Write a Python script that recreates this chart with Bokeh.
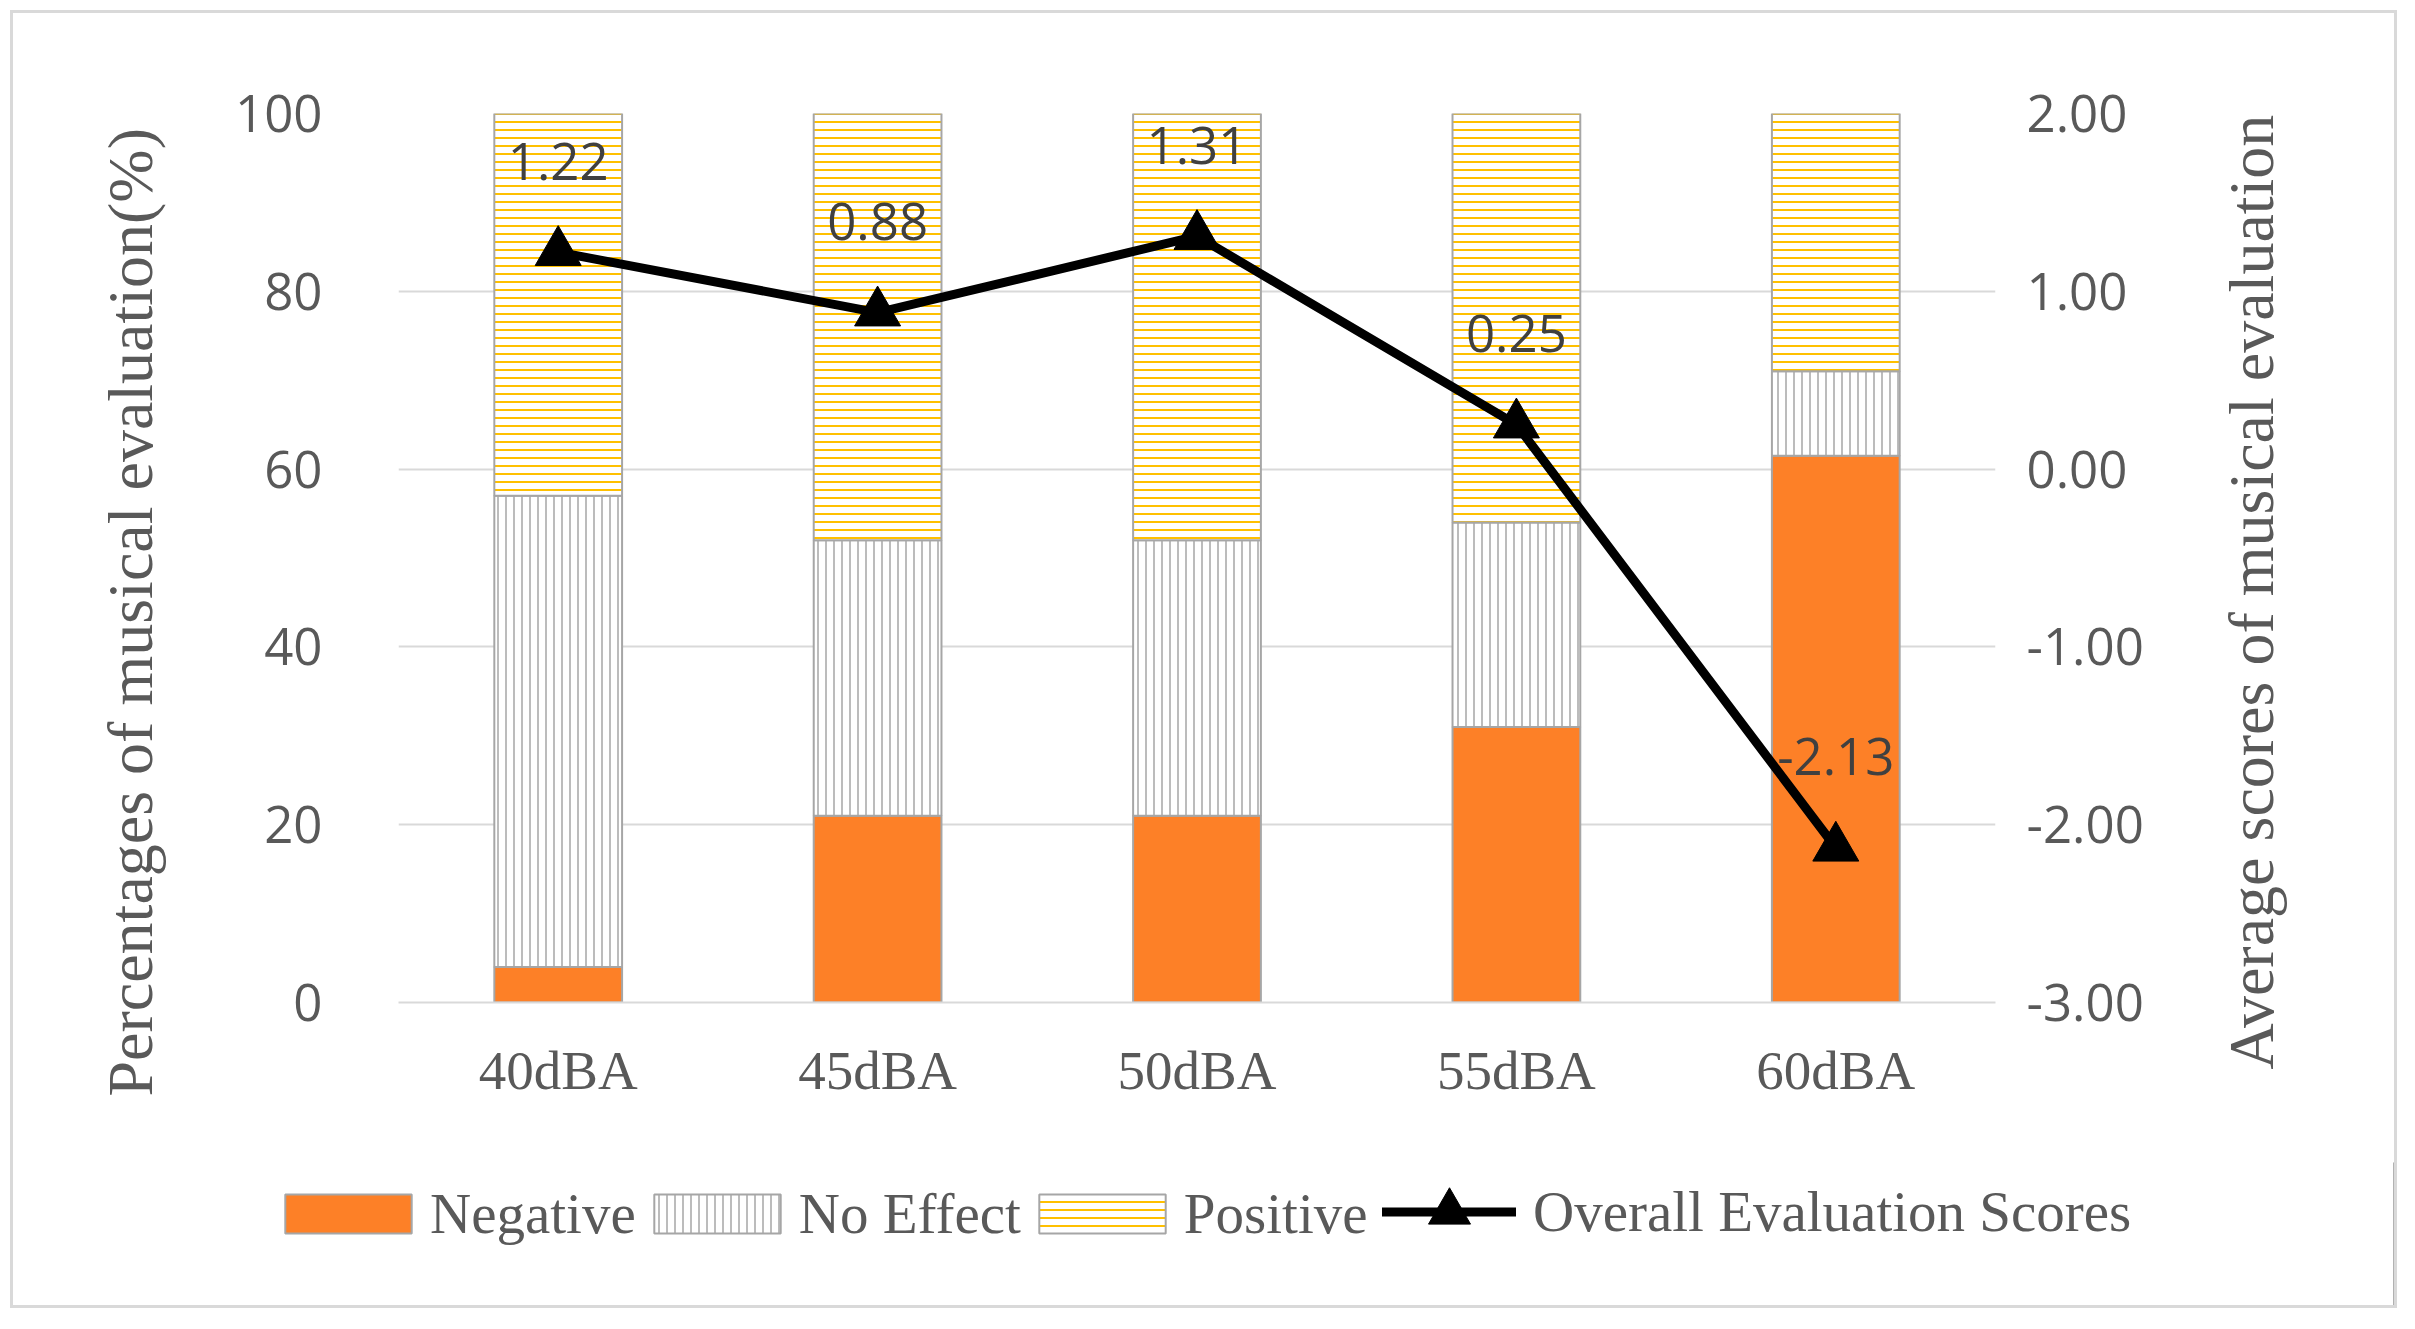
from bokeh.plotting import figure
from bokeh.layouts import column, row
from bokeh.models import (Range1d, LinearAxis, FixedTicker, NumeralTickFormatter,
                          Legend, LegendItem, ColumnDataSource, Title)
from bokeh.embed import file_html
from bokeh.resources import INLINE

#=======================================#
# Data                                  #
#=======================================#
levels = ['40dBA', '45dBA', '50dBA', '55dBA', '60dBA']
negative = [4, 21, 21, 31, 61.5]
no_effect = [53, 31, 31, 23, 9.5]
positive = [43, 48, 48, 46, 29]
scores = [1.22, 0.88, 1.31, 0.25, -2.13]

left_ticks = [0, 20, 40, 60, 80, 100]
right_ticks = [-3, -2, -1, 0, 1, 2]

left_title = 'Percentages of musical evaluation(%)'
right_title = 'Average scores of musical evaluation'

SERIF = 'Liberation Serif'
SANS = 'Open Sans'
GREY_TXT = '#595959'
ORANGE = '#fd8027'
EDGE = '#a6a6a6'
YELLOW = '#ffc000'

MAIN_H = 1149
TOP, BOTTOM = 100, 160

#=======================================#
# Main chart                            #
#=======================================#
p = figure(x_range=levels, y_range=Range1d(0, 100), width=2159, height=MAIN_H,
           output_backend="svg", toolbar_location=None,
           min_border_left=385, min_border_right=177,
           min_border_top=TOP, min_border_bottom=BOTTOM)
p.outline_line_color = None
p.extra_y_ranges = {'score': Range1d(-3, 2)}

top_ne = [a + b for a, b in zip(negative, no_effect)]
top_pos = [a + b + c for a, b, c in zip(negative, no_effect, positive)]

src = ColumnDataSource(dict(x=levels, neg=negative, ne_t=top_ne, pos_t=top_pos,
                            score=scores, lbl=['%.2f' % s for s in scores]))

bar_neg = dict(fill_color=ORANGE, line_color=EDGE, line_width=2)
bar_ne = dict(fill_color='white', line_color=EDGE, line_width=2,
              hatch_pattern='vertical_line', hatch_color=EDGE,
              hatch_scale=8, hatch_weight=1.5)
bar_pos = dict(fill_color='white', line_color=EDGE, line_width=2,
               hatch_pattern='horizontal_line', hatch_color=YELLOW,
               hatch_scale=8, hatch_weight=2)

p.vbar(x='x', bottom=0, top='neg', width=0.4, source=src, **bar_neg)
p.vbar(x='x', bottom='neg', top='ne_t', width=0.4, source=src, **bar_ne)
p.vbar(x='x', bottom='ne_t', top='pos_t', width=0.4, source=src, **bar_pos)

p.line(x='x', y='score', source=src, y_range_name='score',
       line_color='black', line_width=9, line_join='round')
p.scatter(x='x', y='score', source=src, y_range_name='score',
          marker='triangle', size=46, fill_color='black', line_color='black')

p.text(x='x', y='score', text='lbl', source=src, y_range_name='score',
       y_offset=-91, text_align='center', text_baseline='middle',
       text_font={'value': SANS}, text_font_size='51px', text_color='#404040')

# left axis
p.yaxis.ticker = FixedTicker(ticks=left_ticks)
p.yaxis.axis_line_color = None
p.yaxis.major_tick_line_color = None
p.yaxis.minor_tick_line_color = None
p.yaxis.major_label_standoff = 70
p.yaxis.major_label_text_font = SANS
p.yaxis.major_label_text_font_size = '51px'
p.yaxis.major_label_text_color = GREY_TXT

# right axis
ax_r = LinearAxis(y_range_name='score', ticker=FixedTicker(ticks=right_ticks),
                  formatter=NumeralTickFormatter(format='0.00'))
ax_r.axis_line_color = None
ax_r.major_tick_line_color = None
ax_r.minor_tick_line_color = None
ax_r.major_label_standoff = 25
ax_r.major_label_text_font = SANS
ax_r.major_label_text_font_size = '51px'
ax_r.major_label_text_color = GREY_TXT
p.add_layout(ax_r, 'right')

# bottom axis
p.xaxis.axis_line_color = '#d9d9d9'
p.xaxis.axis_line_width = 2
p.xaxis.major_tick_line_color = None
p.xaxis.minor_tick_line_color = None
p.xaxis.major_label_standoff = 31
p.xaxis.major_label_text_font = SERIF
p.xaxis.major_label_text_font_size = '55px'
p.xaxis.major_label_text_color = GREY_TXT

p.xgrid.grid_line_color = None
p.ygrid.grid_line_color = '#d9d9d9'
p.ygrid.grid_line_width = 2
p.x_range.range_padding = 0

p.add_layout(Title(text=left_title, align='left', offset=-94, standoff=132,
                   vertical_align='middle', text_font=SERIF, text_font_size='64px',
                   text_font_style='normal', text_color=GREY_TXT), 'left')

#=======================================#
# Right title (reads bottom to top)     #
#=======================================#
pr = figure(width=222, height=MAIN_H, x_range=Range1d(0, 1), y_range=Range1d(0, 1),
            x_axis_type=None, y_axis_type=None, output_backend="svg",
            toolbar_location=None, min_border_left=120, min_border_right=0,
            min_border_top=TOP, min_border_bottom=BOTTOM)
pr.outline_line_color = None
pr.add_layout(Title(text=right_title, align='left', offset=-67, standoff=10,
                    vertical_align='middle', text_font=SERIF, text_font_size='64px',
                    text_font_style='normal', text_color=GREY_TXT), 'left')

#=======================================#
# Legend                                #
#=======================================#
pl = figure(width=2381, height=143, x_range=Range1d(0, 1), y_range=Range1d(0, 1),
            x_axis_type=None, y_axis_type=None, output_backend="svg",
            toolbar_location=None, min_border=0)
pl.outline_line_color = None
# proxies for the legend swatches, kept outside the visible range
proxy = ColumnDataSource(dict(x=[5], y=[5], top=[5]))
l_neg = pl.vbar(x='x', top='top', width=0.1, source=proxy, **bar_neg)
l_ne = pl.vbar(x='x', top='top', width=0.1, source=proxy, **bar_ne)
l_pos = pl.vbar(x='x', top='top', width=0.1, source=proxy, **bar_pos)
l_line = pl.line(x='x', y='y', source=proxy, line_color='black', line_width=9,
                 line_cap='round')
l_mark = pl.scatter(x='x', y='y', source=proxy, marker='triangle',
                    fill_color='black', line_color='black')

def style_legend(lg):
    lg.padding = 0
    lg.margin = 0
    lg.border_line_color = None
    lg.background_fill_alpha = 0
    lg.label_text_font = SERIF
    lg.label_text_font_size = '57px'
    lg.label_text_color = GREY_TXT

leg_a = Legend(items=[LegendItem(label='Negative', renderers=[l_neg]),
                      LegendItem(label='No Effect', renderers=[l_ne]),
                      LegendItem(label='Positive', renderers=[l_pos])],
               orientation='horizontal', location=(256, 59))
style_legend(leg_a)
leg_a.glyph_width = 158
leg_a.glyph_height = 49
leg_a.label_standoff = 3
leg_a.spacing = 2

leg_b = Legend(items=[LegendItem(label='Overall Evaluation Scores',
                                 renderers=[l_line, l_mark])],
               orientation='horizontal', location=(1369, 41))
style_legend(leg_b)
leg_b.glyph_width = 134
leg_b.glyph_height = 105
leg_b.label_standoff = 17

pl.add_layout(leg_a, 'center')
pl.add_layout(leg_b, 'center')

layout = column(row(p, pr), pl)
layout.styles = {"border": "3px solid #d9d9d9", "margin-left": "10px",
                 "margin-top": "10px"}

open("out.html", "w").write(file_html(layout, INLINE))
